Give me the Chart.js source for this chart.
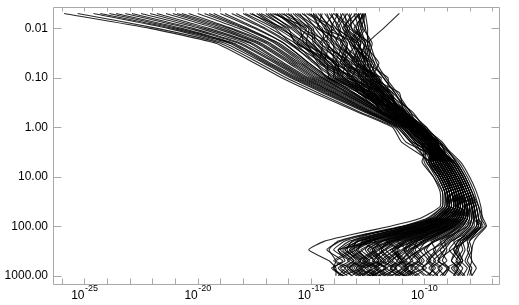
<!DOCTYPE html>
<html><head><meta charset="utf-8">
<script src="https://cdn.jsdelivr.net/npm/chart.js@4/dist/chart.umd.min.js"></script>
<style>html,body{margin:0;padding:0;background:#fff;}</style>
</head><body>
<canvas id="c" width="519" height="305"></canvas>
<script>
// pressure levels (y values) at which each profile is sampled
const pressureLevels = [0.005,0.01,0.02,0.05,0.1,0.2,0.5,1,2,5,10,20,40,70,100,150,200,300,500,700,1000];
// y axis ticks
const yTickValues = [0.01,0.1,1,10,100,1000];
const yTickLabels = ['0.01','0.10','1.00','10.00','100.00','1000.00'];
// x axis ticks (decade exponents) and labelled exponents
const xTickExponents = [-26,-25,-24,-23,-22,-21,-20,-19,-18,-17,-16,-15,-14,-13,-12,-11,-10,-9,-8,-7];
const xLabelExponents = [-25,-20,-15,-10];
// profiles: log10 of x value at each pressure level
const profiles = [
 [-25.9,-22.1,-19.2,-17.5,-16.3,-14.9,-12.9,-11.4,-11.0,-9.7,-9.3,-9.0,-8.9,-9.4,-10.3,-11.6,-12.3,-12.6,-12.2,-12.5,-12.0],
 [-25.3,-21.8,-19.0,-17.3,-16.1,-14.7,-12.8,-11.3,-10.8,-9.0,-8.6,-8.3,-8.1,-8.2,-8.4,-8.9,-9.3,-9.1,-9.4,-9.0,-9.2],
 [-24.6,-21.3,-18.8,-17.1,-15.9,-14.5,-12.6,-11.2,-10.6,-9.4,-9.0,-8.7,-8.5,-8.8,-9.3,-10.2,-10.8,-11.2,-11.0,-10.7,-11.1],
 [-23.9,-20.9,-18.5,-16.9,-15.7,-14.3,-12.5,-11.1,-10.5,-8.6,-8.2,-7.9,-7.6,-7.5,-7.3,-7.7,-8.0,-7.9,-8.1,-7.9,-8.0],
 [-23.2,-20.4,-18.2,-16.6,-15.5,-14.1,-12.4,-11.0,-10.4,-9.9,-9.5,-9.2,-9.2,-9.8,-10.9,-12.5,-13.2,-13.4,-13.0,-13.3,-12.8],
 [-22.5,-19.9,-17.9,-16.4,-15.3,-14.0,-12.3,-11.0,-10.3,-9.2,-8.8,-8.5,-8.3,-8.5,-8.9,-9.6,-10.1,-10.4,-10.0,-10.3,-9.9],
 [-21.8,-19.5,-17.6,-16.2,-15.1,-13.8,-12.1,-10.9,-10.3,-8.8,-8.4,-8.1,-7.9,-7.8,-7.9,-8.2,-8.5,-8.7,-8.4,-8.6,-8.3],
 [-21.1,-19.0,-17.3,-15.9,-14.9,-13.6,-12.0,-10.8,-10.2,-9.3,-8.9,-8.6,-8.4,-8.6,-9.0,-9.8,-10.5,-11.5,-12.1,-11.7,-12.3],
 [-20.4,-18.5,-16.9,-15.6,-14.6,-13.4,-11.9,-10.7,-10.1,-9.5,-9.1,-8.8,-8.7,-9.1,-9.8,-10.9,-11.6,-11.9,-11.5,-11.8,-11.4],
 [-19.7,-18.0,-16.6,-15.4,-14.5,-13.3,-11.8,-10.7,-10.0,-8.9,-8.5,-8.2,-8.0,-8.0,-8.2,-8.6,-9.0,-9.7,-10.3,-9.9,-10.4],
 [-19.0,-17.5,-16.2,-15.1,-14.2,-13.1,-11.7,-10.6,-9.9,-9.6,-9.2,-8.9,-8.8,-9.2,-10.0,-11.2,-12.0,-13.8,-13.2,-12.8,-13.6],
 [-18.3,-17.0,-15.9,-14.9,-14.0,-12.9,-11.6,-10.6,-9.9,-9.1,-8.7,-8.4,-8.2,-8.3,-8.6,-9.2,-9.7,-9.5,-9.9,-9.6,-9.8],
 [-17.6,-16.5,-15.5,-14.6,-13.8,-12.8,-11.5,-10.5,-9.8,-10.1,-9.6,-9.3,-9.3,-10.2,-11.5,-13.3,-14.4,-15.1,-14.2,-13.9,-13.9],
 [-17.0,-16.1,-15.3,-14.4,-13.6,-12.7,-11.5,-10.5,-9.8,-8.7,-8.3,-8.0,-7.7,-7.6,-7.4,-7.9,-8.3,-8.2,-8.4,-8.1,-8.3],
 [-16.5,-15.7,-15.0,-14.2,-13.4,-12.5,-11.4,-10.4,-9.7,-9.3,-8.9,-8.6,-8.4,-8.7,-9.1,-10.0,-10.6,-10.9,-10.6,-10.9,-10.5],
 [-16.0,-15.3,-14.7,-14.0,-13.3,-12.4,-11.3,-10.4,-9.7,-9.8,-9.4,-9.1,-9.0,-9.5,-10.5,-11.9,-12.7,-12.9,-12.5,-12.8,-12.4],
 [-15.5,-15.0,-14.4,-13.8,-13.1,-12.3,-11.3,-10.4,-9.7,-8.7,-8.3,-8.0,-7.8,-7.7,-7.7,-8.0,-8.3,-8.5,-8.3,-8.5,-8.2],
 [-15.0,-14.6,-14.1,-13.5,-12.9,-12.1,-11.2,-10.3,-9.6,-9.3,-8.9,-8.6,-8.4,-8.6,-9.1,-9.9,-10.4,-10.7,-10.2,-10.6,-10.2],
 [-14.6,-14.2,-13.8,-13.3,-12.7,-12.0,-11.1,-10.3,-9.6,-9.5,-9.1,-8.8,-8.6,-9.0,-9.6,-10.6,-11.3,-11.7,-11.2,-11.5,-11.2],
 [-14.1,-13.8,-13.5,-13.0,-12.5,-11.9,-11.0,-10.2,-9.5,-9.8,-9.4,-9.1,-9.0,-9.6,-10.7,-12.2,-13.0,-13.1,-12.6,-13.0,-12.5],
 [-13.7,-13.5,-13.2,-12.8,-12.3,-11.8,-10.9,-10.2,-9.5,-8.8,-8.4,-8.1,-7.9,-7.9,-8.0,-8.4,-8.8,-9.3,-9.8,-9.5,-9.9],
 [-13.3,-13.2,-12.9,-12.6,-12.1,-11.6,-10.9,-10.1,-9.4,-9.2,-8.8,-8.5,-8.3,-8.5,-8.8,-9.6,-10.3,-11.0,-11.6,-11.2,-11.8],
 [-12.9,-12.8,-12.6,-12.4,-12.0,-11.5,-10.8,-10.1,-9.4,-8.5,-8.1,-7.8,-7.6,-7.4,-7.25,-7.6,-7.8,-7.9,-7.9,-7.7,-7.9],
 [-12.6,-12.5,-12.5,-12.2,-11.8,-11.3,-10.8,-10.0,-9.3,-8.9,-8.5,-8.2,-8.0,-8.1,-8.3,-8.7,-9.1,-9.0,-9.2,-8.9,-9.1],
 [-11.1,-11.8,-12.5,-12.3,-11.8,-11.3,-10.7,-10.1,-9.5,-9.4,-9.0,-8.7,-8.6,-8.9,-9.4,-10.3,-10.9,-11.3,-11.1,-10.8,-11.2],
 [-18.8,-17.4,-16.2,-15.1,-14.2,-13.1,-11.8,-10.8,-10.1,-10.0,-9.6,-9.2,-9.2,-9.9,-11.0,-12.8,-13.8,-14.2,-13.9,-14.0,-13.6],
 [-16.8,-15.9,-15.1,-14.3,-13.5,-12.6,-11.4,-10.5,-9.8,-9.7,-9.3,-9.0,-8.9,-9.3,-10.2,-11.5,-12.6,-13.3,-12.7,-13.1,-12.6],
 [-14.8,-14.4,-13.9,-13.4,-12.8,-12.0,-11.1,-10.2,-9.5,-9.0,-8.6,-8.3,-8.1,-8.2,-8.5,-9.0,-9.6,-10.0,-9.7,-10.1,-9.6],
 [-13.5,-13.4,-13.1,-12.7,-12.2,-11.7,-10.9,-10.1,-9.4,-9.6,-9.2,-8.9,-8.8,-9.2,-9.9,-11.0,-11.8,-12.3,-11.9,-12.2,-11.7],
 [-20.9,-18.8,-17.2,-15.8,-14.8,-13.6,-12.0,-10.9,-10.2,-9.1,-8.7,-8.4,-8.2,-8.3,-8.7,-9.4,-9.9,-10.2,-9.8,-10.1,-9.7],
 [-22.9,-20.2,-18.1,-16.5,-15.4,-14.0,-12.3,-11.0,-10.4,-9.4,-9.0,-8.7,-8.5,-8.7,-9.2,-10.1,-10.7,-11.3,-11.9,-11.4,-12.0],
 [-12.8,-13.4,-12.7,-12.5,-12.2,-11.6,-10.9,-10.2,-9.5,-8.9,-8.5,-8.2,-7.9,-7.8,-7.6,-8.0,-8.4,-8.6,-8.8,-8.5,-8.7],
 [-13.0,-12.7,-13.1,-12.5,-12.3,-11.9,-11.0,-10.3,-9.6,-9.3,-8.9,-8.6,-8.5,-8.9,-9.5,-10.4,-11.0,-11.4,-11.0,-11.3,-10.9],
 [-15.3,-14.8,-14.3,-13.6,-13.0,-12.2,-11.2,-10.4,-9.6,-9.1,-8.7,-8.4,-8.2,-8.4,-8.8,-9.5,-10.0,-10.7,-11.2,-10.8,-11.3],
 [-17.3,-16.3,-15.4,-14.5,-13.7,-12.7,-11.5,-10.5,-9.8,-8.8,-8.4,-8.1,-7.8,-7.7,-7.5,-7.8,-8.1,-8.0,-8.2,-8.0,-8.1],
 [-14.3,-14.0,-13.6,-13.1,-12.6,-11.9,-11.0,-10.2,-9.5,-9.7,-9.3,-9.0,-8.9,-9.3,-10.1,-11.4,-12.4,-13.0,-12.4,-12.7,-13.2],
 [-13.9,-13.6,-13.3,-12.9,-12.4,-11.8,-10.9,-10.2,-9.5,-9.0,-8.6,-8.3,-8.1,-8.1,-8.3,-8.8,-9.2,-9.6,-9.3,-9.7,-9.4],
 [-16.2,-15.5,-14.8,-14.0,-13.3,-12.4,-11.3,-10.4,-9.7,-9.5,-9.1,-8.8,-8.6,-9.0,-9.7,-10.8,-11.5,-12.2,-11.8,-12.1,-11.6],
 [-19.3,-17.8,-16.4,-15.2,-14.3,-13.2,-11.8,-10.7,-10.0,-9.2,-8.8,-8.5,-8.3,-8.4,-8.7,-9.3,-9.8,-10.5,-10.1,-10.4,-10.0],
 [-12.7,-12.6,-12.4,-12.1,-11.7,-11.2,-10.6,-9.9,-9.3,-8.4,-8.0,-7.7,-7.5,-7.45,-7.5,-7.8,-8.0,-8.1,-7.9,-8.0,-7.9],
 [-16.7,-15.2,-15.6,-14.1,-13.9,-12.6,-11.7,-10.6,-9.9,-9.4,-9.0,-8.8,-8.6,-9.0,-9.7,-11.1,-11.9,-12.8,-12.2,-12.9,-12.1],
 [-15.9,-15.4,-14.2,-14.4,-13.0,-12.7,-11.1,-10.5,-9.6,-9.0,-8.6,-8.3,-8.2,-8.4,-8.9,-9.8,-10.4,-11.3,-10.8,-11.5,-10.9],
 [-15.1,-14.0,-14.6,-13.2,-13.3,-11.9,-11.4,-10.2,-9.7,-9.6,-9.2,-8.9,-8.8,-9.3,-10.3,-12.0,-12.9,-13.6,-13.1,-13.7,-13.2],
 [-14.5,-14.7,-13.4,-13.7,-12.4,-12.3,-10.8,-10.4,-9.5,-8.8,-8.4,-8.1,-7.9,-7.9,-8.1,-8.8,-9.5,-10.1,-10.6,-10.0,-10.8],
 [-13.6,-13.9,-12.9,-13.1,-12.1,-12.0,-11.2,-10.0,-9.6,-9.1,-8.7,-8.4,-8.3,-8.6,-9.2,-10.1,-10.6,-10.2,-10.9,-10.4,-10.7],
 [-13.1,-12.9,-13.3,-12.3,-12.6,-11.5,-11.1,-10.3,-9.4,-9.5,-9.1,-8.8,-8.7,-9.1,-9.8,-11.2,-12.1,-12.7,-13.4,-12.6,-13.0],
 [-12.6,-13.1,-12.6,-12.9,-12.0,-11.9,-10.7,-10.4,-9.3,-8.6,-8.2,-7.9,-7.7,-7.6,-7.7,-8.1,-8.6,-8.9,-8.5,-9.0,-8.6],
 [-14.9,-14.3,-14.0,-12.9,-13.2,-11.8,-11.5,-10.1,-9.8,-9.2,-8.8,-8.5,-8.4,-8.7,-9.3,-10.4,-11.2,-11.9,-11.4,-12.0,-11.5],
 [-16.4,-15.6,-14.5,-14.6,-13.1,-12.9,-11.2,-10.7,-9.7,-9.8,-9.4,-9.1,-9.1,-9.7,-10.8,-12.6,-13.5,-14.0,-13.3,-13.8,-13.4],
 [-17.2,-16.0,-15.7,-13.9,-14.0,-12.4,-11.9,-10.4,-10.0,-9.0,-8.6,-8.3,-8.1,-8.1,-8.3,-8.7,-9.1,-9.4,-9.8,-9.3,-9.6],
 [-13.4,-13.0,-12.8,-13.0,-11.9,-12.1,-10.8,-10.6,-9.5,-9.3,-8.9,-8.6,-8.4,-8.8,-9.6,-10.9,-11.7,-11.1,-11.8,-11.3,-11.6],
 [-12.8,-12.6,-13.0,-12.2,-12.4,-11.4,-11.3,-10.0,-9.6,-8.7,-8.3,-8.0,-7.8,-7.7,-7.6,-7.9,-8.2,-8.6,-8.3,-8.7,-8.4],
 [-14.0,-14.4,-13.0,-13.6,-12.3,-12.4,-10.9,-10.5,-9.4,-9.6,-9.2,-8.9,-8.9,-9.4,-10.4,-11.8,-12.8,-12.2,-12.9,-12.3,-12.7],
 [-15.7,-14.9,-14.8,-13.5,-13.6,-12.0,-11.6,-10.3,-9.9,-9.1,-8.7,-8.4,-8.3,-8.5,-9.0,-9.9,-10.5,-10.8,-10.3,-10.8,-10.4],
 [-12.9,-13.3,-12.4,-12.7,-12.5,-11.7,-11.0,-10.5,-9.6,-9.4,-9.0,-8.7,-8.6,-9.0,-9.7,-10.7,-11.4,-12.0,-11.6,-12.2,-11.8],
 [-24.3,-21.1,-18.6,-17.0,-15.8,-14.4,-12.5,-11.2,-10.6,-9.8,-9.3,-9.0,-9.0,-9.6,-10.6,-12.3,-13.1,-13.7,-13.1,-13.5,-13.2],
 [-22.1,-19.7,-17.7,-16.3,-15.2,-13.9,-12.2,-10.9,-10.3,-9.0,-8.6,-8.3,-8.1,-8.2,-8.5,-9.1,-9.6,-9.9,-9.5,-9.8,-9.4],
 [-20.7,-18.6,-17.0,-15.7,-14.7,-13.5,-11.9,-10.8,-10.1,-9.6,-9.2,-8.9,-8.8,-9.3,-10.2,-11.6,-12.5,-13.0,-12.5,-12.9,-12.4],
 [-19.5,-17.9,-16.5,-15.3,-14.4,-13.2,-11.8,-10.7,-10.0,-8.7,-8.3,-8.0,-7.8,-7.7,-7.6,-8.0,-8.4,-8.3,-8.6,-8.3,-8.5],
 [-18.0,-16.8,-15.7,-14.8,-13.9,-12.9,-11.6,-10.5,-9.9,-9.4,-9.0,-8.7,-8.5,-8.9,-9.5,-10.6,-11.4,-12.0,-12.6,-12.1,-12.5],
 [-17.9,-16.6,-15.9,-14.5,-14.1,-12.7,-11.8,-10.6,-10.1,-9.2,-8.8,-8.5,-8.4,-8.6,-9.1,-10.0,-10.8,-11.4,-10.9,-11.3,-10.8],
 [-21.4,-19.2,-17.4,-16.0,-15.0,-13.7,-12.0,-10.8,-10.2,-9.7,-9.3,-9.0,-8.9,-9.5,-10.5,-12.1,-12.9,-13.3,-12.8,-13.2,-12.7],
 [-23.6,-20.7,-18.4,-16.8,-15.6,-14.2,-12.4,-11.1,-10.5,-9.1,-8.7,-8.4,-8.2,-8.3,-8.7,-9.5,-10.0,-10.6,-11.0,-10.5,-11.0],
 [-16.1,-15.0,-14.9,-14.2,-13.2,-12.6,-11.2,-10.6,-9.6,-8.9,-8.5,-8.2,-8.0,-8.0,-8.1,-8.5,-8.9,-9.3,-9.0,-9.4,-9.1],
 [-14.2,-13.7,-13.9,-12.8,-12.9,-11.7,-11.3,-10.1,-9.7,-9.5,-9.1,-8.8,-8.7,-9.1,-9.9,-11.3,-12.3,-13.0,-13.9,-13.3,-13.7],
 [-13.8,-14.1,-13.2,-12.6,-12.7,-11.6,-11.0,-10.4,-9.4,-9.2,-8.8,-8.5,-8.3,-8.6,-9.3,-10.5,-11.2,-10.8,-11.5,-11.0,-11.4],
 [-12.7,-12.9,-12.7,-12.0,-12.3,-11.1,-10.9,-9.9,-9.5,-9.0,-8.6,-8.3,-8.2,-8.4,-8.9,-9.7,-10.3,-10.9,-10.5,-11.0,-10.6],
 [-15.4,-14.5,-14.4,-13.3,-13.4,-11.8,-11.5,-10.2,-9.8,-9.7,-9.3,-9.0,-9.0,-9.5,-10.6,-12.2,-13.3,-13.8,-13.5,-14.1,-13.6],
 [-17.4,-16.4,-15.2,-14.7,-13.5,-12.9,-11.3,-10.6,-9.7,-9.0,-8.6,-8.2,-8.0,-7.9,-8.0,-8.4,-8.7,-8.5,-8.8,-8.5,-8.7],
 [-13.2,-13.5,-12.8,-13.2,-12.0,-12.2,-10.8,-10.5,-9.4,-9.3,-8.9,-8.6,-8.5,-8.9,-9.6,-10.8,-11.6,-12.4,-11.9,-12.6,-12.1],
 [-16.9,-15.8,-15.0,-14.0,-13.7,-12.5,-11.6,-10.7,-9.8,-9.6,-9.1,-8.8,-8.7,-9.2,-10.0,-11.7,-12.6,-13.5,-12.9,-13.4,-13.0],
 [-15.8,-15.1,-14.6,-13.7,-13.2,-12.2,-11.4,-10.3,-9.8,-9.1,-8.7,-8.4,-8.2,-8.5,-9.0,-10.2,-10.9,-11.7,-12.3,-11.6,-12.4],
 [-14.7,-14.1,-14.1,-13.1,-12.8,-12.1,-11.0,-10.5,-9.5,-9.4,-9.0,-8.7,-8.5,-8.8,-9.5,-10.8,-11.9,-12.5,-12.0,-12.8,-12.2],
 [-13.9,-13.3,-13.6,-12.7,-12.4,-12.0,-11.1,-10.2,-9.7,-8.8,-8.4,-8.1,-7.9,-7.8,-7.9,-8.3,-8.8,-9.1,-9.6,-9.2,-9.5],
 [-13.0,-13.6,-12.9,-12.6,-12.8,-11.8,-11.4,-10.1,-9.5,-9.6,-9.2,-8.9,-8.8,-9.3,-10.2,-11.6,-12.2,-11.8,-12.5,-12.0,-12.4],
 [-12.6,-12.8,-13.2,-12.4,-12.1,-11.4,-10.6,-10.3,-9.3,-8.9,-8.5,-8.2,-8.0,-8.2,-8.6,-9.4,-9.9,-10.6,-10.2,-10.8,-10.3],
 [-15.2,-14.2,-14.3,-13.4,-12.7,-12.6,-11.1,-10.5,-9.5,-9.3,-8.9,-8.6,-8.5,-8.8,-9.4,-10.5,-11.3,-12.1,-12.7,-12.2,-12.9],
 [-16.6,-15.5,-15.3,-13.8,-13.8,-12.3,-11.7,-10.4,-9.9,-9.5,-9.1,-8.8,-8.7,-9.1,-9.9,-11.4,-12.5,-13.2,-12.6,-13.0,-12.7],
 [-14.4,-13.9,-13.4,-13.5,-12.2,-12.5,-10.9,-10.6,-9.6,-9.0,-8.6,-8.3,-8.1,-8.3,-8.8,-9.6,-10.3,-10.5,-11.0,-10.7,-11.1],
 [-13.6,-13.2,-12.6,-13.0,-12.4,-11.5,-11.2,-10.2,-9.5,-9.7,-9.3,-9.0,-8.9,-9.4,-10.3,-11.8,-12.9,-13.5,-12.8,-13.3,-12.9],
 [-18.5,-17.1,-16.0,-14.8,-14.3,-12.9,-11.9,-10.6,-10.0,-9.3,-8.9,-8.6,-8.5,-8.8,-9.4,-10.6,-11.5,-12.3,-11.7,-12.4,-11.9],
 [-20.0,-18.2,-16.8,-15.5,-14.5,-13.4,-11.9,-10.8,-10.1,-8.9,-8.5,-8.2,-8.0,-8.1,-8.4,-9.0,-9.5,-10.2,-10.8,-10.3,-10.9],
 [-12.9,-12.7,-12.3,-12.5,-11.6,-11.6,-10.5,-10.0,-9.2,-8.6,-8.2,-7.9,-7.7,-7.6,-7.5,-7.9,-8.2,-8.8,-9.4,-8.9,-9.3],
 [-14.0,-13.4,-13.7,-13.0,-12.1,-12.2,-11.3,-10.0,-9.7,-9.4,-9.0,-8.7,-8.6,-9.0,-9.8,-11.3,-12.4,-13.2,-14.0,-13.5,-13.8],
 [-15.6,-14.7,-14.0,-14.0,-12.8,-12.7,-11.0,-10.6,-9.6,-9.2,-8.8,-8.5,-8.3,-8.5,-9.0,-9.9,-10.7,-11.5,-11.0,-11.7,-11.1],
 [-17.7,-16.2,-15.6,-14.3,-14.2,-12.6,-11.8,-10.5,-10.0,-9.9,-9.4,-9.1,-9.1,-9.7,-10.9,-12.7,-13.7,-14.3,-13.6,-14.0,-13.7],
 [-13.4,-13.8,-13.0,-12.5,-12.6,-11.8,-10.8,-10.4,-9.4,-8.7,-8.3,-8.0,-7.8,-7.8,-7.8,-8.2,-8.5,-8.7,-8.4,-8.8,-8.5],
 [-12.7,-13.0,-12.5,-12.8,-12.2,-11.6,-11.1,-10.2,-9.6,-9.2,-8.8,-8.5,-8.4,-8.7,-9.3,-10.3,-11.1,-11.8,-12.2,-11.7,-12.3],
 [-14.9,-14.6,-13.6,-13.9,-12.6,-12.4,-11.3,-10.3,-9.8,-9.5,-9.1,-8.8,-8.7,-9.1,-9.9,-11.0,-11.8,-12.5,-12.0,-12.6,-12.2],
 [-16.3,-15.1,-15.2,-13.9,-13.6,-12.3,-11.5,-10.5,-9.6,-9.1,-8.7,-8.4,-8.2,-8.3,-8.7,-9.4,-10.1,-10.9,-11.4,-10.9,-11.5]
];

const FRAME = '#a8a8a8';
const FONT = "'Liberation Sans', Arial, Helvetica, sans-serif";

const framePlugin = {
  id: 'frame',
  afterDraw(chart) {
    const ctx = chart.ctx;
    const a = chart.chartArea;
    const xs = chart.scales.x, ys = chart.scales.y;
    const L = Math.round(a.left) + 0.5, R = Math.round(a.right) + 0.5;
    const T = Math.round(a.top) + 0.5, B = Math.round(a.bottom) + 0.5;
    ctx.save();
    ctx.strokeStyle = FRAME;
    ctx.lineWidth = 1;
    ctx.beginPath();
    ctx.rect(L, T, R - L, B - T);
    xTickExponents.forEach(e => {
      const px = Math.round(xs.getPixelForValue(Math.pow(10, e))) + 0.5;
      ctx.moveTo(px, B); ctx.lineTo(px, B - 6);
      ctx.moveTo(px, T); ctx.lineTo(px, T + 4);
    });
    yTickValues.forEach(v => {
      const py = Math.round(ys.getPixelForValue(v)) + 0.5;
      ctx.moveTo(L, py); ctx.lineTo(L + 8, py);
      ctx.moveTo(R, py); ctx.lineTo(R - 8, py);
    });
    ctx.stroke();
    // x labels: 10 with superscript exponent
    ctx.fillStyle = '#000';
    ctx.textBaseline = 'alphabetic';
    xLabelExponents.forEach(e => {
      const px = xs.getPixelForValue(Math.pow(10, e));
      ctx.font = '12px ' + FONT;
      ctx.textAlign = 'right';
      ctx.fillText('10', px, 299);
      ctx.font = '9px ' + FONT;
      ctx.textAlign = 'left';
      ctx.fillText(String(e), px + 0.5, 291);
    });
    ctx.restore();
  }
};

new Chart(document.getElementById('c'), {
  type: 'line',
  data: {
    datasets: profiles.map(row => ({
      data: row.map((v, i) => ({ x: Math.pow(10, v), y: pressureLevels[i] })),
      borderColor: 'rgba(0,0,0,0.85)',
      borderWidth: 1.1,
      pointRadius: 0,
      fill: false,
      tension: 0.15
    }))
  },
  options: {
    responsive: false,
    animation: false,
    devicePixelRatio: 1,
    layout: { padding: { top: 7, right: 20, left: 0, bottom: 0 } },
    plugins: { legend: { display: false }, tooltip: { enabled: false } },
    scales: {
      x: {
        type: 'logarithmic',
        min: Math.pow(10, -26.39), max: Math.pow(10, -6.7),
        afterBuildTicks: s => { s.ticks = xTickExponents.map(e => ({ value: Math.pow(10, e) })); },
        ticks: { display: false },
        grid: { display: false, drawTicks: false },
        border: { display: false },
        afterFit: s => { s.height = 21; s.paddingLeft = 0; s.paddingRight = 0; }
      },
      y: {
        type: 'logarithmic',
        reverse: true,
        min: 0.0037, max: 1472,
        afterBuildTicks: s => { s.ticks = yTickValues.map(v => ({ value: v })); },
        ticks: {
          callback: (v, i) => yTickLabels[i],
          font: { size: 12, family: FONT },
          color: '#000',
          padding: 5,
          autoSkip: false
        },
        grid: { display: false, drawTicks: false },
        border: { display: false },
        afterFit: s => { s.width = 53; s.paddingTop = 0; s.paddingBottom = 0; }
      }
    }
  },
  plugins: [framePlugin]
});
</script>
</body></html>
